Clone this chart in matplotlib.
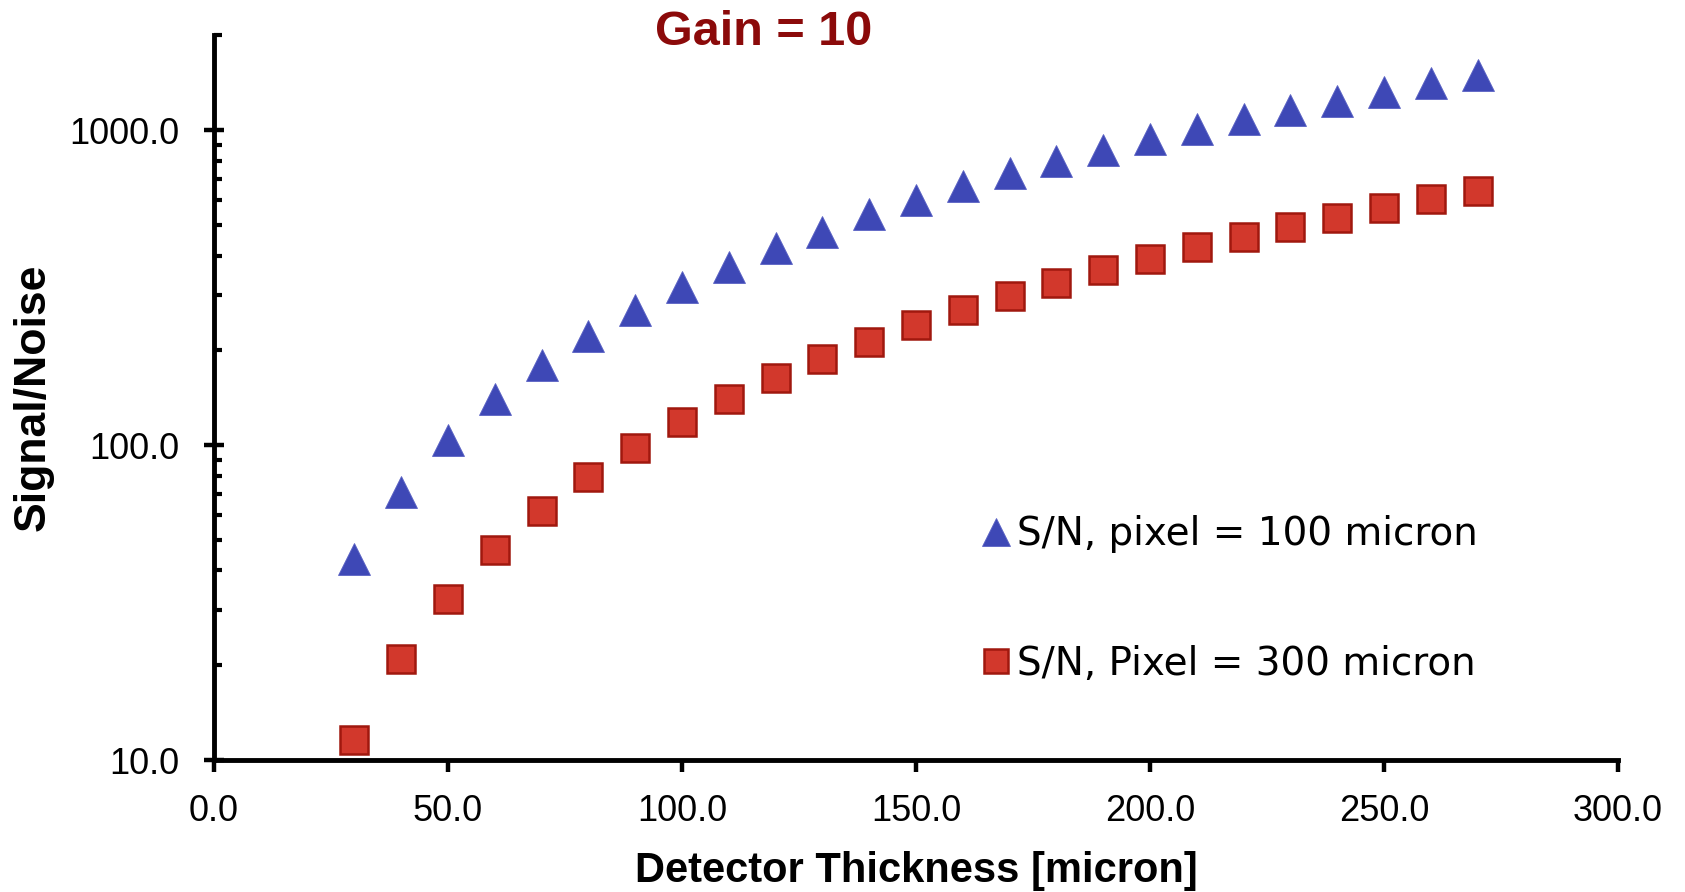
import matplotlib
matplotlib.use("Agg")
import matplotlib.pyplot as plt
from matplotlib.ticker import FixedLocator, FormatStrFormatter, NullFormatter

# Detector thickness (micron)
thickness = [30, 40, 50, 60, 70, 80, 90, 100, 110, 120, 130, 140, 150,
             160, 170, 180, 190, 200, 210, 220, 230, 240, 250, 260, 270]

# Signal-to-noise for two pixel sizes
sn_pixel_100 = [43.4, 70.8, 104, 140, 180, 222, 268, 318, 367, 423, 476, 541, 600,
                664, 730, 798, 866, 936, 1012, 1084, 1163, 1236, 1320, 1410, 1493]
sn_pixel_300 = [11.6, 20.9, 32.4, 46.3, 61.7, 79.3, 97.8, 118.5, 140, 163, 188, 213, 240,
                268, 298, 327, 359, 389, 425, 457, 492, 526, 565, 604, 642]

series_labels = ["S/N, pixel = 100 micron", "S/N, Pixel = 300 micron"]
x_ticks = [0, 50, 100, 150, 200, 250, 300]
y_major = [10, 100, 1000]
y_minor = [20, 30, 40, 50, 60, 70, 80, 90,
           200, 300, 400, 500, 600, 700, 800, 900, 2000]

W, H, DPI = 1685, 892, 100
fig = plt.figure(figsize=(W / DPI, H / DPI), dpi=DPI)
fig.patch.set_facecolor("white")

ax = fig.add_axes([214 / W, 1 - 760 / H, 1404 / W, (760 - 35.5) / H])

ax.plot(thickness, sn_pixel_100, linestyle="none", marker="^", markersize=23.5,
        markerfacecolor="#3E48B6", markeredgecolor="#5A62C4", markeredgewidth=0.6,
        label=series_labels[0], zorder=3)
ax.plot(thickness, sn_pixel_300, linestyle="none", marker="s", markersize=20.5,
        markerfacecolor="#D2382C", markeredgecolor="#A0180E", markeredgewidth=1.8,
        label=series_labels[1], zorder=3)

ax.set_yscale("log")
ax.set_xlim(0, 300)
ax.set_ylim(10, 2000)

ax.xaxis.set_major_locator(FixedLocator(x_ticks))
ax.xaxis.set_major_formatter(FormatStrFormatter("%.1f"))
ax.yaxis.set_major_locator(FixedLocator(y_major))
ax.yaxis.set_major_formatter(FormatStrFormatter("%.1f"))
ax.yaxis.set_minor_locator(FixedLocator(y_minor))
ax.yaxis.set_minor_formatter(NullFormatter())
ax.xaxis.set_minor_locator(FixedLocator([]))

for side in ("top", "right"):
    ax.spines[side].set_visible(False)
for side in ("left", "bottom"):
    ax.spines[side].set_linewidth(3.5)
    ax.spines[side].set_color("black")

tick_font = "Liberation Sans"
ax.tick_params(axis="y", which="major", direction="inout", length=14.4, width=3.2,
               pad=18, labelsize=26, color="black")
ax.tick_params(axis="y", which="minor", direction="in", length=6, width=3.0,
               color="black")
ax.tick_params(axis="x", which="major", direction="out", length=8.6, width=3.2,
               pad=16, labelsize=26, color="black")
for lab in ax.get_xticklabels() + ax.get_yticklabels():
    lab.set_fontfamily([tick_font, "DejaVu Sans"])

ax.set_xlabel("Detector Thickness [micron]", fontsize=30, fontweight="bold",
              family=["Liberation Sans", "DejaVu Sans"])
ax.set_ylabel("Signal/Noise", fontsize=32, fontweight="bold",
              family=["Liberation Sans", "DejaVu Sans"])
ax.xaxis.set_label_coords(0.5, -0.125)
ax.yaxis.set_label_coords(-0.114, 0.5)

fig.text(763.5 / W, 1 - 45 / H, "Gain = 10", ha="center", va="baseline",
         fontsize=35, fontweight="bold", color="#8B0A0A",
         family=["Liberation Sans", "DejaVu Sans"])

leg = ax.legend(loc="center left", bbox_to_anchor=(982 / W, 1 - 599 / H),
                bbox_transform=fig.transFigure, frameon=False,
                prop={"family": ["DejaVu Sans"], "size": 28},
                markerscale=0.83, handlelength=0.7, handletextpad=0.2,
                labelspacing=2.36, borderpad=0, borderaxespad=0, numpoints=1)

fig.savefig("out.png", dpi=DPI, facecolor="white")
